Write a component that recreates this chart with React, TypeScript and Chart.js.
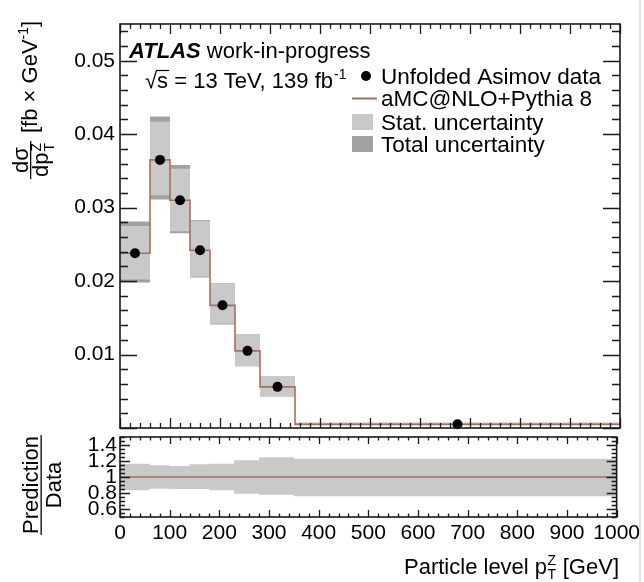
import React, { useEffect, useRef } from 'react';
import { Chart, registerables } from 'chart.js';

Chart.register(...registerables);

// ---------------- data ----------------
const binEdges = [0, 60, 100, 140, 180, 230, 280, 350, 1000];
const binCenters = [30, 80, 120, 160, 205, 255, 315, 675];
const mcPrediction = [0.0238, 0.0365, 0.031, 0.0242, 0.0167, 0.0105, 0.0056, 0.0005];
const asimovData = [0.0238, 0.0365, 0.031, 0.0242, 0.0167, 0.0105, 0.0056, 0.0005];
const statHigh = [0.0275, 0.0417, 0.0353, 0.0282, 0.0197, 0.0128, 0.007, 0.0007];
const statLow = [0.0202, 0.0317, 0.0268, 0.0206, 0.0142, 0.0084, 0.0043, 0.0004];
const totalHigh = [0.0281, 0.0424, 0.0358, 0.0283, 0.0197, 0.0128, 0.007, 0.0007];
const totalLow = [0.0198, 0.0311, 0.0265, 0.0205, 0.0141, 0.0084, 0.0043, 0.0004];
const ratioHigh = [1.166, 1.146, 1.138, 1.16, 1.166, 1.209, 1.246, 1.229];
const ratioLow = [0.834, 0.854, 0.85, 0.85, 0.834, 0.79, 0.779, 0.759];
const xTickValues = [0, 100, 200, 300, 400, 500, 600, 700, 800, 900, 1000];
const topYTickValues = [0.01, 0.02, 0.03, 0.04, 0.05];
const ratioYTickValues = [0.6, 0.8, 1, 1.2, 1.4];

// ---------------- style ----------------
const FONT = '"Liberation Sans", Arial, Helvetica, sans-serif';
const BROWN = '#a3705e';
const LIGHT = '#c9c9c9';
const DARK = '#a1a1a1';
const f = (size: number, weight = 'normal', style = 'normal') => `${style} ${weight} ${size}px ${FONT}`;

function stepPoints(values: number[]) {
  const pts = values.map((v, i) => ({ x: binEdges[i], y: v }));
  pts.push({ x: binEdges[binEdges.length - 1], y: values[values.length - 1] });
  return pts;
}

function bandDatasets(high: number[], low: number[], color: string, order: number) {
  return [
    {
      data: stepPoints(high), stepped: 'before', borderColor: 'rgba(0,0,0,0)', borderWidth: 0,
      pointRadius: 0, backgroundColor: color, fill: '+1', order,
    },
    {
      data: stepPoints(low), stepped: 'before', borderColor: 'rgba(0,0,0,0)', borderWidth: 0,
      pointRadius: 0, fill: false, order,
    },
  ];
}

type TickCfg = {
  xMajor: number; xMinor: number; xMajorLen: number; xMinorLen: number;
  yMajor: number; yMinor: number; yMajorLen: number; yMinorLen: number;
};

function drawFrameAndTicks(chart: any, cfg: TickCfg) {
  const { ctx, chartArea: a, scales } = chart;
  const xs = scales.x;
  const ys = scales.y;
  ctx.save();
  ctx.strokeStyle = '#1a1a1a';
  ctx.lineWidth = 1.3;
  ctx.beginPath();
  const nX = Math.round((xs.max - xs.min) / cfg.xMinor);
  for (let i = 0; i <= nX; i++) {
    const v = xs.min + i * cfg.xMinor;
    const px = Math.round(xs.getPixelForValue(v)) + 0.5;
    const r = v / cfg.xMajor;
    const major = Math.abs(r - Math.round(r)) < 1e-6;
    const len = major ? cfg.xMajorLen : cfg.xMinorLen;
    ctx.moveTo(px, a.bottom);
    ctx.lineTo(px, a.bottom - len);
    ctx.moveTo(px, a.top);
    ctx.lineTo(px, a.top + len);
  }
  const start = Math.ceil(ys.min / cfg.yMinor - 1e-6);
  const end = Math.floor(ys.max / cfg.yMinor + 1e-6);
  for (let i = start; i <= end; i++) {
    const v = i * cfg.yMinor;
    const py = Math.round(ys.getPixelForValue(v)) + 0.5;
    const r = v / cfg.yMajor;
    const major = Math.abs(r - Math.round(r)) < 1e-6;
    const len = major ? cfg.yMajorLen : cfg.yMinorLen;
    ctx.moveTo(a.left, py);
    ctx.lineTo(a.left + len, py);
    ctx.moveTo(a.right, py);
    ctx.lineTo(a.right - len, py);
  }
  ctx.stroke();
  ctx.lineWidth = 1.6;
  ctx.strokeRect(a.left, a.top, a.right - a.left, a.bottom - a.top);
  ctx.restore();
}

const topDecor = {
  id: 'topDecor',
  afterDraw(chart: any) {
    drawFrameAndTicks(chart, {
      xMajor: 100, xMinor: 20, xMajorLen: 10, xMinorLen: 5,
      yMajor: 0.01, yMinor: 0.002, yMajorLen: 17, yMinorLen: 8,
    });
    const ctx = chart.ctx as CanvasRenderingContext2D;
    ctx.save();
    ctx.fillStyle = '#000';
    ctx.textBaseline = 'alphabetic';
    ctx.textAlign = 'left';
    // ATLAS label
    ctx.font = f(22, 'bold', 'italic');
    ctx.fillText('ATLAS', 129, 58);
    const wA = ctx.measureText('ATLAS').width;
    ctx.font = f(22);
    ctx.fillText(' work-in-progress', 129 + wA, 58);
    // sqrt(s) line
    let x = 145;
    const by = 88;
    ctx.fillText('\u221A', x, by);
    const wr = ctx.measureText('\u221A').width;
    x += wr;
    const ws = ctx.measureText('s').width;
    ctx.fillText('s', x, by);
    ctx.beginPath();
    ctx.lineWidth = 1.2;
    ctx.strokeStyle = '#000';
    ctx.moveTo(x - 1, by - 17.5);
    ctx.lineTo(x + ws + 1, by - 17.5);
    ctx.stroke();
    x += ws;
    const rest = ' = 13 TeV, 139 fb';
    ctx.fillText(rest, x, by);
    x += ctx.measureText(rest).width;
    ctx.font = f(14);
    ctx.fillText('-1', x + 1, by - 9);

    // legend
    ctx.font = f(22.5);
    const lx = 381;
    ctx.beginPath();
    ctx.arc(366, 76, 5, 0, Math.PI * 2);
    ctx.fill();
    ctx.fillText('Unfolded Asimov data', lx, 84);
    ctx.beginPath();
    ctx.strokeStyle = BROWN;
    ctx.lineWidth = 2;
    ctx.moveTo(352, 98.5);
    ctx.lineTo(377, 98.5);
    ctx.stroke();
    ctx.fillText('aMC@NLO+Pythia 8', lx, 106);
    ctx.fillStyle = LIGHT;
    ctx.fillRect(352, 114, 21, 16);
    ctx.fillStyle = '#000';
    ctx.fillText('Stat. uncertainty', lx, 130);
    ctx.fillStyle = DARK;
    ctx.fillRect(352, 136, 21, 16);
    ctx.fillStyle = '#000';
    ctx.fillText('Total uncertainty', lx, 152);

    // y-axis title (rotated)
    ctx.rotate(-Math.PI / 2);
    // local (lx, ly) -> screen (x = ly, y = -lx)
    ctx.font = f(22);
    const num = 'd\u03C3';
    const wNum = ctx.measureText(num).width;
    const wDen = ctx.measureText('dp').width;
    ctx.font = f(14);
    const wSub = ctx.measureText('T').width;
    ctx.font = f(22);
    const denTotal = wDen + wSub + 1;
    const fracW = Math.max(wNum, denTotal) + 4;
    const cY = 160; // screen y center of fraction
    const l0 = -cY - fracW / 2;
    ctx.fillText(num, -cY - wNum / 2, 28);
    ctx.fillRect(l0, 30, fracW, 1.3);
    const d0 = -cY - denTotal / 2;
    ctx.fillText('dp', d0, 48);
    ctx.font = f(14);
    ctx.fillText('Z', d0 + wDen + 1, 41);
    ctx.fillText('T', d0 + wDen + 1, 54);
    // units
    ctx.font = f(22);
    let ux = -133;
    const u1 = '[fb \u00D7 GeV';
    ctx.fillText(u1, ux, 37);
    ux += ctx.measureText(u1).width;
    ctx.font = f(14);
    ctx.fillText('-1', ux, 28);
    ux += ctx.measureText('-1').width;
    ctx.font = f(22);
    ctx.fillText(']', ux, 37);
    ctx.restore();

    // screenshot border on the right
    ctx.save();
    ctx.fillStyle = '#e3e3e3';
    ctx.fillRect(639, 0, 2, 582);
    ctx.restore();
  },
};

const ratioDecor = {
  id: 'ratioDecor',
  afterDraw(chart: any) {
    drawFrameAndTicks(chart, {
      xMajor: 100, xMinor: 20, xMajorLen: 7, xMinorLen: 3.5,
      yMajor: 0.2, yMinor: 0.05, yMajorLen: 10, yMinorLen: 5,
    });
    const ctx = chart.ctx as CanvasRenderingContext2D;
    ctx.save();
    ctx.fillStyle = '#000';
    ctx.textBaseline = 'alphabetic';
    // x title
    ctx.font = f(22);
    const t1 = 'Particle level p';
    const t2 = ' [GeV]';
    ctx.font = f(14);
    const wZ = ctx.measureText('Z').width + 1;
    ctx.font = f(22);
    const w1 = ctx.measureText(t1).width;
    const w2 = ctx.measureText(t2).width;
    const xEnd = 619;
    let x = xEnd - w2 - wZ - w1;
    const by = 574;
    ctx.fillText(t1, x, by);
    x += w1;
    ctx.font = f(14);
    ctx.fillText('Z', x + 0.5, by - 9);
    ctx.fillText('T', x + 0.5, by + 5);
    x += wZ;
    ctx.font = f(22);
    ctx.fillText(t2, x, by);

    // ratio y title (rotated fraction)
    ctx.rotate(-Math.PI / 2);
    const cY = 485;
    const wP = ctx.measureText('Prediction').width;
    const wD = ctx.measureText('Data').width;
    ctx.fillText('Prediction', -cY - wP / 2, 38);
    ctx.fillRect(-cY - wP / 2 - 1, 40.5, wP + 2, 1.3);
    ctx.fillText('Data', -cY - wD / 2, 61);
    ctx.restore();
  },
};

export default function App() {
  const topRef = useRef<HTMLCanvasElement | null>(null);
  const ratioRef = useRef<HTMLCanvasElement | null>(null);

  useEffect(() => {
    const tickFont = { family: FONT, size: 21 };
    const top = new Chart(topRef.current as HTMLCanvasElement, {
      type: 'line',
      data: {
        datasets: [
          {
            data: binCenters.map((c, i) => ({ x: c, y: asimovData[i] })),
            showLine: false, pointRadius: 5, pointBackgroundColor: '#000', pointBorderWidth: 0,
            borderColor: '#000', clip: false, order: 0,
          } as any,
          {
            data: stepPoints(mcPrediction), stepped: 'before', borderColor: BROWN, borderWidth: 1.6,
            pointRadius: 0, fill: false, order: 1,
          },
          ...bandDatasets(statHigh, statLow, LIGHT, 2),
          ...bandDatasets(totalHigh, totalLow, DARK, 3),
        ] as any,
      },
      options: {
        responsive: false,
        animation: false,
        events: [],
        layout: { padding: { left: 0, top: 24, right: 24, bottom: 154 } },
        plugins: { legend: { display: false }, tooltip: { enabled: false } },
        scales: {
          x: {
            type: 'linear', min: 0, max: 1000,
            ticks: { display: false },
            grid: { display: false, drawTicks: false },
            border: { display: false },
            afterFit: (s: any) => { s.height = 0; },
          },
          y: {
            type: 'linear', min: 0, max: 0.055,
            afterBuildTicks: (s: any) => { s.ticks = topYTickValues.map((v) => ({ value: v })); },
            ticks: {
              font: tickFont, color: '#000', padding: 5, autoSkip: false,
              callback: (v: any) => Number(v).toFixed(2),
            },
            grid: { display: false, drawTicks: false },
            border: { display: false },
            afterFit: (s: any) => { s.width = 120; },
          },
        },
      } as any,
      plugins: [topDecor],
    });

    const ratioLine = mcPrediction.map((p, i) => p / asimovData[i]);
    const ratio = new Chart(ratioRef.current as HTMLCanvasElement, {
      type: 'line',
      data: {
        datasets: [
          {
            data: stepPoints(ratioLine), stepped: 'before', borderColor: BROWN, borderWidth: 1.6,
            pointRadius: 0, fill: false, order: 0,
          },
          ...bandDatasets(ratioHigh, ratioLow, LIGHT, 1),
        ] as any,
      },
      options: {
        responsive: false,
        animation: false,
        events: [],
        layout: { padding: { left: 0, top: 437, right: 24, bottom: 0 } },
        plugins: { legend: { display: false }, tooltip: { enabled: false } },
        scales: {
          x: {
            type: 'linear', min: 0, max: 1000,
            afterBuildTicks: (s: any) => { s.ticks = xTickValues.map((v) => ({ value: v })); },
            ticks: {
              font: tickFont, color: '#000', padding: 4, autoSkip: false, maxRotation: 0, minRotation: 0,
              callback: (v: any) => String(Math.round(Number(v))),
            },
            grid: { display: false, drawTicks: false },
            border: { display: false },
            afterFit: (s: any) => { s.height = 65; },
          },
          y: {
            type: 'linear', min: 0.5, max: 1.5,
            afterBuildTicks: (s: any) => { s.ticks = ratioYTickValues.map((v) => ({ value: v })); },
            ticks: {
              font: tickFont, color: '#000', padding: 3, autoSkip: false,
              callback: (v: any) => String(Math.round(Number(v) * 10) / 10),
            },
            grid: { display: false, drawTicks: false },
            border: { display: false },
            afterFit: (s: any) => { s.width = 120; },
          },
        },
      } as any,
      plugins: [ratioDecor],
    });

    return () => {
      top.destroy();
      ratio.destroy();
    };
  }, []);

  const canvasStyle: React.CSSProperties = { position: 'absolute', left: 0, top: 0, width: 644, height: 582 };
  return (
    <div style={{ position: 'fixed', left: 0, top: 0, width: 644, height: 582, background: '#fff' }}>
      <canvas ref={topRef} width={644} height={582} style={canvasStyle} />
      <canvas ref={ratioRef} width={644} height={582} style={canvasStyle} />
    </div>
  );
}
